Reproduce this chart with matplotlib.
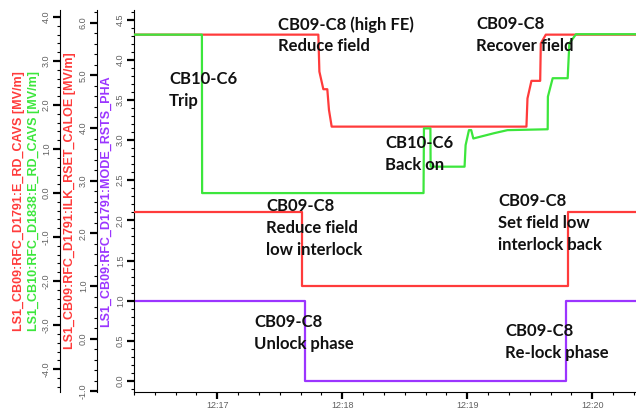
import matplotlib
matplotlib.use('Agg')
import matplotlib.pyplot as plt
import matplotlib.dates as mdates
from matplotlib.ticker import MultipleLocator, FormatStrFormatter
import pandas as pd

day = '2021-01-01 '

# LS1_CB09:RFC_D1791:E_RD_CAVS [MV/m]
cb09_time = ['12:16:20', '12:17:48.5', '12:17:49.0', '12:17:50.9', '12:17:52.8',
             '12:17:53.6', '12:17:54.9', '12:19:28.4', '12:19:28.9', '12:19:30.8',
             '12:19:35.0', '12:19:35.3', '12:19:37.7', '12:20:21']
cb09_field = [3.6, 3.6, 2.76, 2.36, 2.36, 1.89, 1.51, 1.51, 2.15, 2.55,
              2.55, 3.40, 3.6, 3.6]

# LS1_CB10:RFC_D1838:E_RD_CAVS [MV/m]
cb10_time = ['12:16:20', '12:16:52.6', '12:16:52.7', '12:18:39.0', '12:18:39.2',
             '12:18:42.3', '12:18:42.4', '12:18:58.7', '12:18:59.2', '12:19:00.8',
             '12:19:01.9', '12:19:02.9', '12:19:12.8', '12:19:19.3', '12:19:38.6',
             '12:19:38.7', '12:19:41.0', '12:19:48.2', '12:19:49.0', '12:19:52.2',
             '12:20:21']
cb10_field = [3.6, 3.6, 0.0, 0.0, 1.47, 1.47, 0.60, 0.60, 1.09, 1.43,
              1.43, 1.24, 1.36, 1.43, 1.45, 2.19, 2.61, 2.61, 3.40, 3.61,
              3.61]

# LS1_CB09:RFC_D1791:ILK_RSET_CALOE [MV/m]
ilk_time = ['12:16:20', '12:17:40.8', '12:19:48.2', '12:20:21']
ilk_value = [2.4, 1.0, 2.4, 2.4]

# LS1_CB09:RFC_D1791:MODE_RSTS_PHA
pha_time = ['12:16:20', '12:17:42.1', '12:19:47.4', '12:20:21']
pha_value = [1, 0, 1, 1]

def to_dt(ts):
    return pd.to_datetime([day + t for t in ts], format='mixed')

red = '#ff3b3b'
green = '#3ce63c'
purple = '#9b35ff'
tick_grey = '#606060'

fig = plt.figure(figsize=(6.36, 4.09), dpi=100)
W, H = 636, 409
ax3 = fig.add_axes([134 / W, 17 / H, 502 / W, 382 / H])
ax2 = ax3.twinx()
ax1 = ax3.twinx()

ax3.plot(to_dt(pha_time), pha_value, color=purple, lw=1.6, drawstyle='steps-post')
ax2.plot(to_dt(ilk_time), ilk_value, color=red, lw=1.6, drawstyle='steps-post')
ax1.plot(to_dt(cb09_time), cb09_field, color=red, lw=1.6)
ax1.plot(to_dt(cb10_time), cb10_field, color=green, lw=1.6)

ax3.set_xlim(pd.Timestamp(day + '12:16:20'), pd.Timestamp(day + '12:20:21'))
ax3.set_ylim(-0.137, 4.62)
ax2.set_ylim(-1.01, 6.24)
ax1.set_ylim(-4.52, 4.16)

ax3.xaxis.set_major_locator(mdates.MinuteLocator())
ax3.xaxis.set_minor_locator(mdates.SecondLocator(bysecond=range(0, 60, 10)))
ax3.xaxis.set_major_formatter(mdates.DateFormatter('%H:%M'))

ax3.yaxis.set_major_locator(MultipleLocator(0.5))
ax3.yaxis.set_minor_locator(MultipleLocator(0.1))
ax2.yaxis.set_major_locator(MultipleLocator(1.0))
ax2.yaxis.set_minor_locator(MultipleLocator(0.2))
ax1.yaxis.set_major_locator(MultipleLocator(1.0))
ax1.yaxis.set_minor_locator(MultipleLocator(0.2))

for a in (ax3, ax2, ax1):
    a.yaxis.set_major_formatter(FormatStrFormatter('%.1f'))
    a.spines['top'].set_visible(False)
    a.spines['right'].set_visible(False)
    a.tick_params(axis='both', which='major', length=5, width=1.6, labelsize=6.5,
                  labelcolor=tick_grey, pad=1.5)
    a.tick_params(axis='both', which='minor', length=2.5, width=0.8)
    a.tick_params(axis='y', labelrotation=90)

for a, off in ((ax2, 37), (ax1, 74)):
    a.yaxis.tick_left()
    a.spines['left'].set_visible(True)
    a.spines['left'].set_position(('outward', off * 0.72))
    a.spines['bottom'].set_visible(False)

for a in (ax3, ax2, ax1):
    for lab in a.get_yticklabels():
        lab.set_va('center')
        lab.set_family('Liberation Sans')
for lab in ax3.get_xticklabels():
    lab.set_family('Liberation Sans')

# axis titles
ylab = dict(rotation=90, ha='center', va='center', fontsize=9, fontweight='bold',
            family='Liberation Sans')
yc = 1 - 201 / H
fig.text(19 / W, yc, 'LS1_CB09:RFC_D1791:E_RD_CAVS [MV/m]', color=red, **ylab)
fig.text(34 / W, yc, 'LS1_CB10:RFC_D1838:E_RD_CAVS [MV/m]', color=green, **ylab)
fig.text(70 / W, yc, 'LS1_CB09:RFC_D1791:ILK_RSET_CALOE [MV/m]', color=red, **ylab)
fig.text(106 / W, yc, 'LS1_CB09:RFC_D1791:MODE_RSTS_PHA', color=purple, **ylab)

# event notes (pixel position of first line, top-left)
notes = [
    ('CB10-C6\nTrip', 169, 71),
    ('CB09-C8 (high FE)\nReduce field', 278, 16),
    ('CB09-C8\nRecover field', 476, 16),
    ('CB10-C6\nBack on', 385, 135),
    ('CB09-C8\nReduce field\nlow interlock', 266, 198),
    ('CB09-C8\nSet field low\ninterlock back', 498, 193),
    ('CB09-C8\nUnlock phase', 254, 314),
    ('CB09-C8\nRe-lock phase', 505, 323),
]
for txt, px, py in notes:
    fig.text(px / W, 1 - py / H, txt, ha='left', va='top', fontsize=12,
             fontweight='bold', family='Lato', color='#111111', linespacing=1.45,
             zorder=10)

fig.savefig('out.png', dpi=100)
